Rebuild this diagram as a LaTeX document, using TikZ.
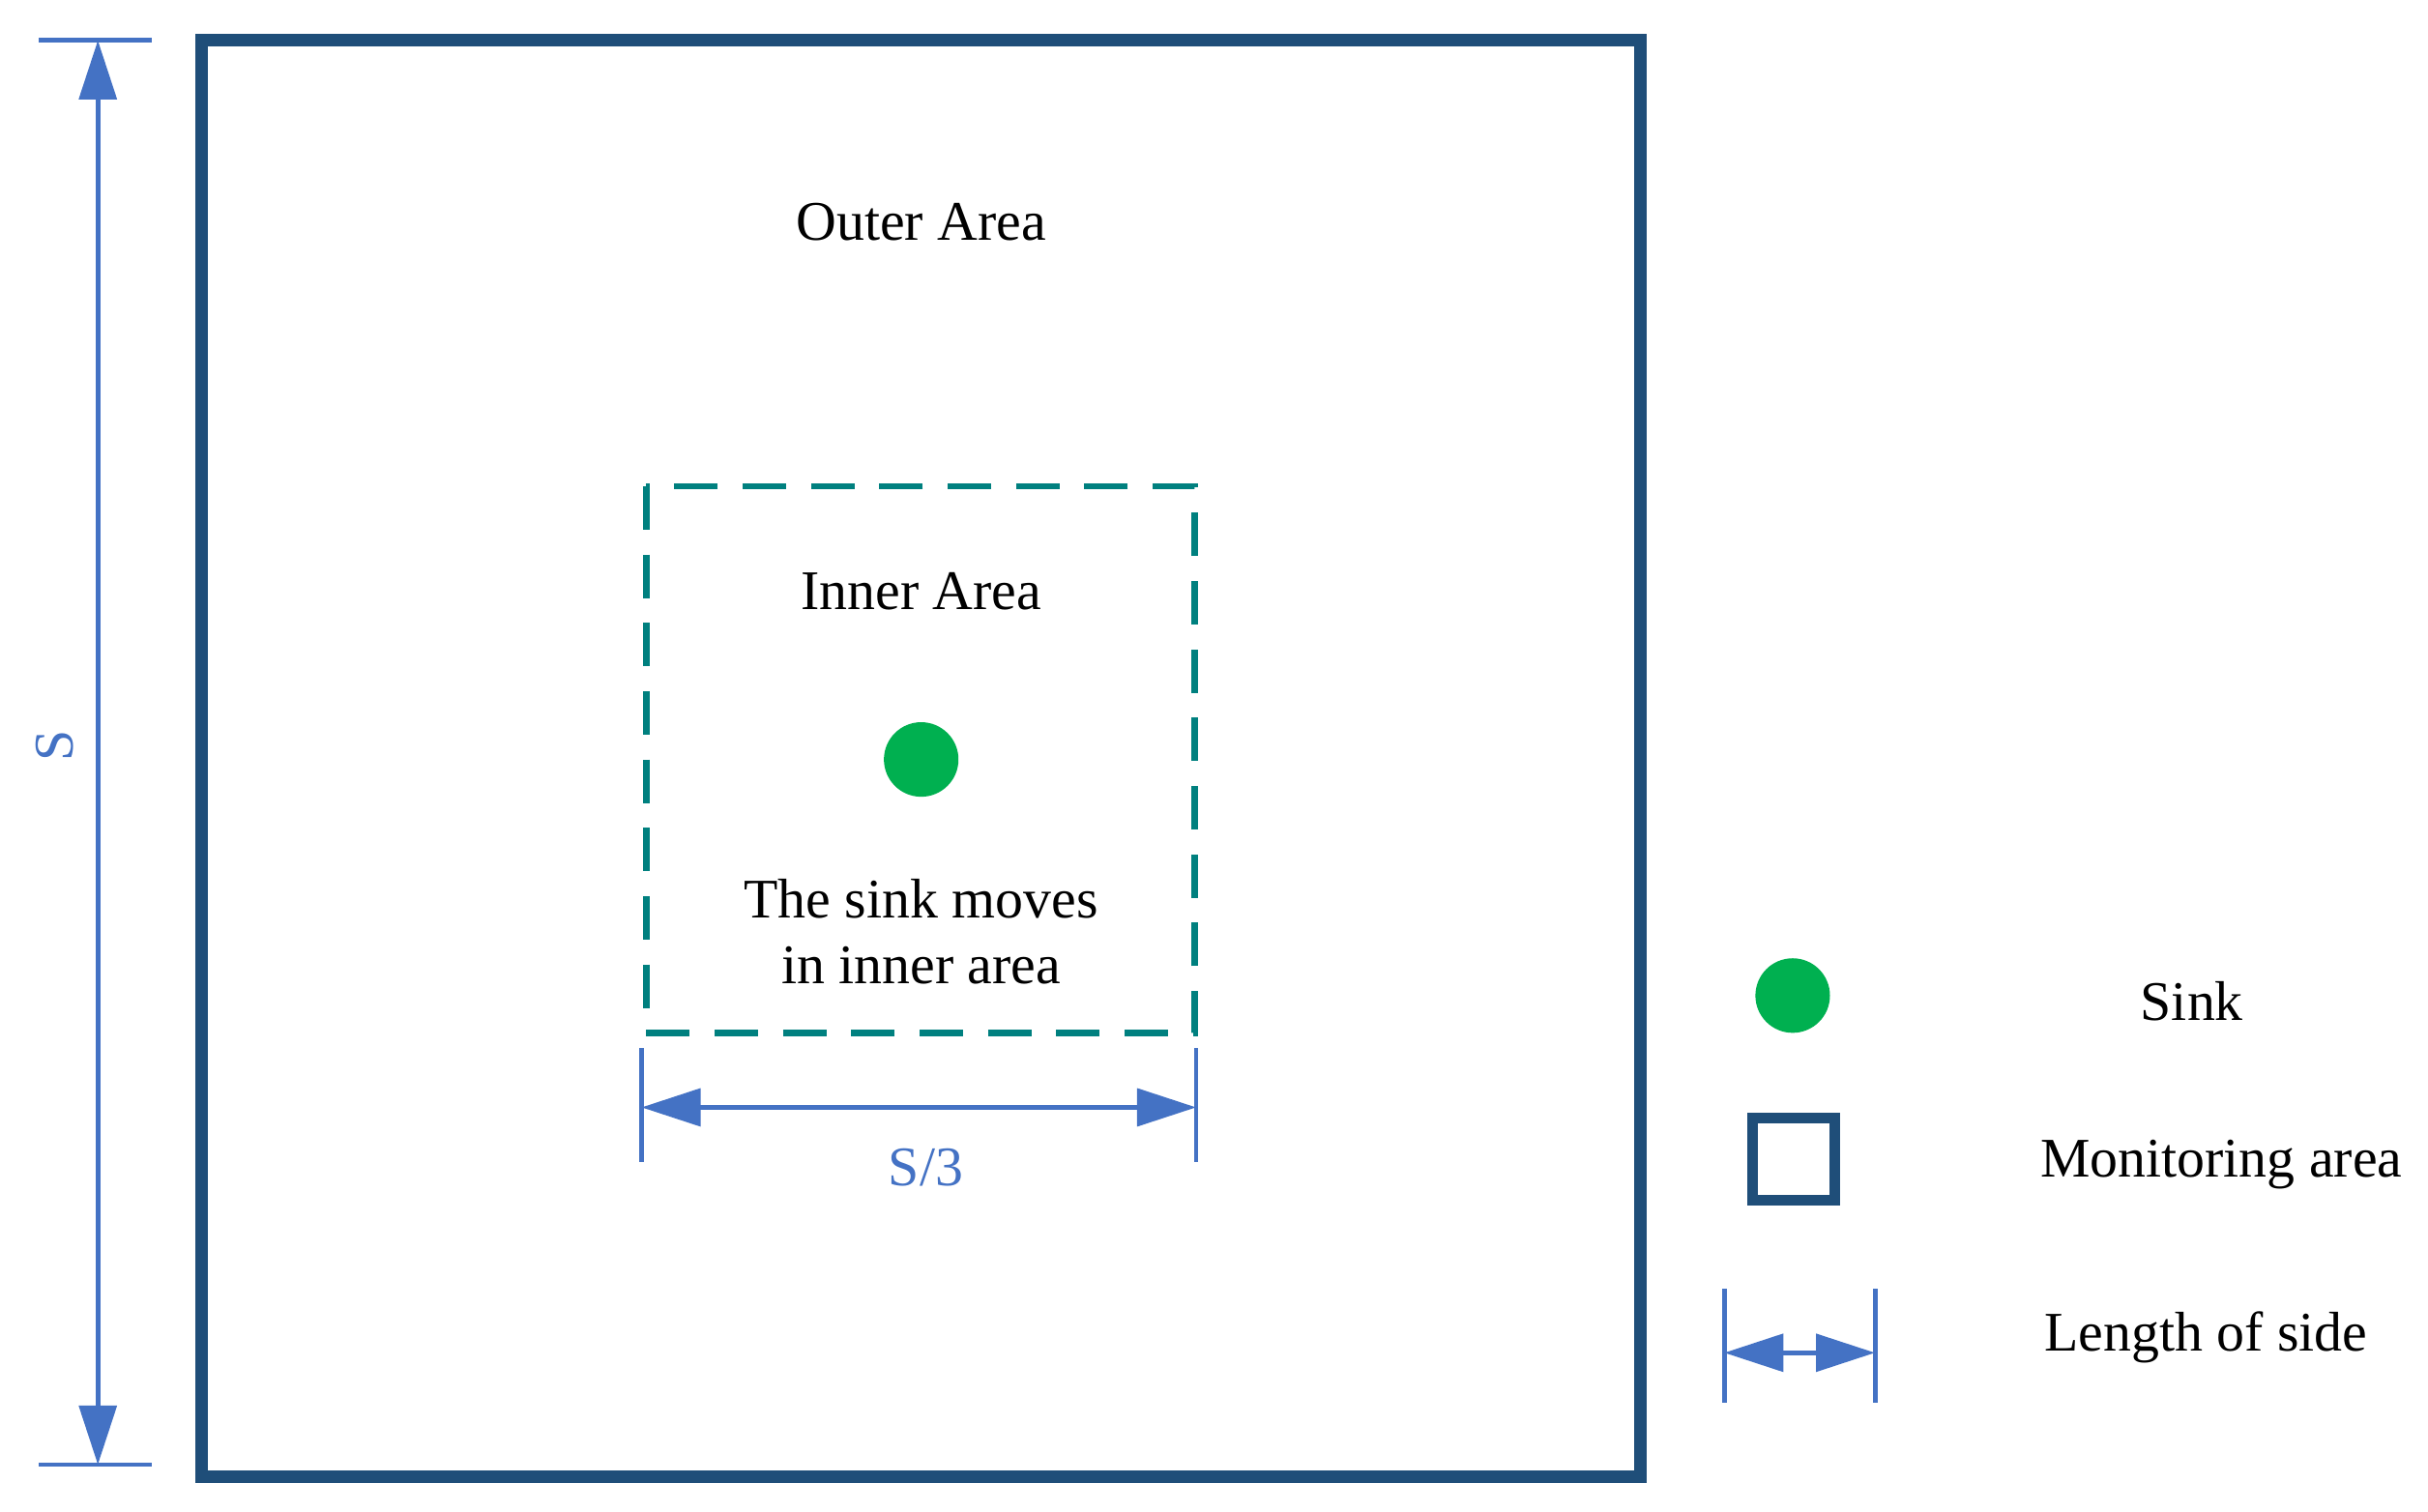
\documentclass[tikz,border=0pt]{standalone}
\usepackage{fontspec}
\setmainfont{Liberation Serif}
\usetikzlibrary{arrows.meta}
\definecolor{dark}{HTML}{1F4E79}
\definecolor{dimb}{HTML}{4472C4}
\definecolor{teal2}{HTML}{00807F}
\definecolor{sinkg}{HTML}{00B050}
\begin{document}
\begin{tikzpicture}[x=0.5pt,y=-0.5pt,
  lbl/.style={font=\fontsize{18}{21}\selectfont,align=center,inner sep=0pt},
  dlbl/.style={lbl,text=dimb},
  dim/.style={draw=dimb,line width=1.5pt},
  dimarr/.style={dim,{Triangle[length=19pt,width=12pt]}-{Triangle[length=19pt,width=12pt]}},
  sink/.style={circle,fill=sinkg,minimum size=24pt,inner sep=0pt}]
\useasboundingbox (0,0) rectangle (1563,973);
% outer area
\draw[dark,line width=4pt] (130,26) rectangle (1056,951);
\node[lbl] (outer) at (593,143) {Outer Area};
% inner area
\draw[teal2,line width=2pt,dash pattern=on 14pt off 8pt] (416,313) rectangle (769,665);
\node[lbl] (inner) at (593,381) {Inner Area};
\node[sink] (sink) at (593,489) {};
\node[lbl] (moves) at (593,600) {The sink moves\\in inner area};
% S dimension
\coordinate (st1) at (25,26); \coordinate (st2) at (98,26);
\coordinate (sb1) at (25,943); \coordinate (sb2) at (98,943);
\draw[dim] (st1) -- (st2); \draw[dim] (sb1) -- (sb2);
\coordinate (sa) at (63,26); \coordinate (sb) at (63,943);
\draw[dimarr] (sa) -- (sb);
\node[dlbl,rotate=90] (S) at (35,480) {S};
% S/3 dimension
\coordinate (l1) at (413,675); \coordinate (l2) at (413,748);
\coordinate (r1) at (770,675); \coordinate (r2) at (770,748);
\draw[dim] (l1) -- (l2); \draw[dim] (r1) -- (r2);
\coordinate (la) at (413,713); \coordinate (ra) at (770,713);
\draw[dimarr] (la) -- (ra);
\node[dlbl] (S3) at (596,752) {S/3};
% legend
\node[sink] (lsink) at (1154,641) {};
\node[lbl] (tsink) at (1411,645) {Sink};
\draw[dark,line width=3.5pt] (1128,720) rectangle (1181,773);
\node[lbl] (tmon) at (1430,750) {Monitoring area};
\coordinate (g1) at (1110,830); \coordinate (g2) at (1110,903);
\coordinate (h1) at (1207,830); \coordinate (h2) at (1207,903);
\draw[dim] (g1) -- (g2); \draw[dim] (h1) -- (h2);
\coordinate (ga) at (1110,871); \coordinate (ha) at (1207,871);
\draw[dimarr] (ga) -- (ha);
\node[lbl] (tlen) at (1420,861) {Length of side};
\end{tikzpicture}
\end{document}
